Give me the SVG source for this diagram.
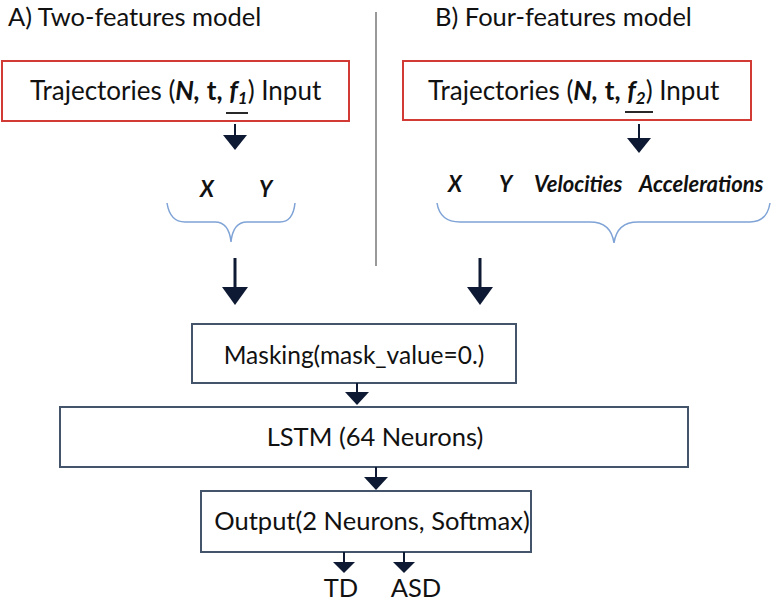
<svg xmlns="http://www.w3.org/2000/svg" width="772" height="602" viewBox="0 0 772 602">
<defs>
<style>
text{font-family:Lato,"Open Sans","Liberation Sans",sans-serif;fill:#111;}
.t{font-size:26px;}
.ti{font-size:25.5px;}
.lbl{font-size:25.5px;text-anchor:middle;}
.feat{font-size:22px;font-weight:bold;font-style:italic;}
.bi{font-weight:bold;font-style:italic;}
.b{font-weight:bold;}
.red{fill:#fff;stroke:#d23a35;stroke-width:2;}
.blu{fill:#fff;stroke:#44546a;stroke-width:2;}
.brace{fill:none;stroke:#7fa3d6;stroke-width:1.5;}
.ar{stroke:#0e1a33;stroke-width:2;fill:none;}
.arb{stroke:#0e1a33;stroke-width:3;fill:none;}
.hd{fill:#0e1a33;}
.ul{stroke:#111;stroke-width:1.8;}
</style>
</defs>
<rect width="772" height="602" fill="#fff"/>
<g id="titles">
<text class="ti" x="8" y="26">A) Two-features model</text>
<text class="ti" x="435" y="26">B) Four-features model</text>
</g>
<line x1="376" y1="12" x2="376" y2="266" stroke="#777" stroke-width="1.5"/>
<g id="inputA">
<rect class="red" x="2" y="61" width="347" height="60"/>
<text class="t" x="30" y="100">Trajectories (<tspan class="bi">N,</tspan> <tspan class="b">t,</tspan> <tspan class="bi">f<tspan font-size="17" dy="4">1</tspan></tspan><tspan dy="-4">) Input</tspan></text>
<line class="ul" x1="226" y1="113" x2="248" y2="113"/>
</g>
<g id="inputB">
<rect class="red" x="403" y="61" width="348" height="59"/>
<text class="t" x="428" y="100">Trajectories  (<tspan class="bi">N,</tspan> <tspan class="b">t,</tspan> <tspan class="bi">f<tspan font-size="17" dy="4">2</tspan></tspan><tspan dy="-4">) Input</tspan></text>
<line class="ul" x1="625" y1="112" x2="653" y2="112"/>
</g>
<g id="featuresA">
<text class="feat" x="200" y="197">X</text>
<text class="feat" x="259" y="197">Y</text>
<path class="brace" d="M167,203 Q170,222 185,222 L215,222 Q229,222 231,242 Q233,222 247,222 L280,222 Q293,222 295,203"/>
</g>
<g id="featuresB">
<text class="feat" x="448" y="192">X</text>
<text class="feat" x="499" y="192">Y</text>
<text class="feat" x="534" y="192">Velocities</text>
<text class="feat" x="639" y="192">Accelerations</text>
<path class="brace" d="M437,203 Q440,222 460,222 L590,222 Q611,222 614,243 Q617,222 638,222 L750,222 Q767,222 770,203"/>
</g>
<g id="masking">
<rect class="blu" x="192" y="324" width="324" height="59"/>
<text class="lbl" x="354" y="364" style="font-size:24.5px">Masking(mask_value=0.)</text>
</g>
<g id="lstm">
<rect class="blu" x="60" y="407" width="628" height="60"/>
<text class="lbl" x="375" y="446">LSTM (64 Neurons)</text>
</g>
<g id="output">
<rect class="blu" x="201" y="491" width="330" height="61"/>
<text class="lbl" x="372" y="530">Output(2 Neurons, Softmax)</text>
</g>
<g id="TD"><text class="lbl" x="341" y="597">TD</text></g>
<g id="ASD"><text class="lbl" x="416" y="597">ASD</text></g>
<g id="connectors">
<line class="ar" x1="235" y1="124" x2="235" y2="136"/>
<polygon class="hd" points="223,135 247,135 235,150"/>
<line class="ar" x1="639" y1="124" x2="639" y2="139"/>
<polygon class="hd" points="627,138 651,138 639,153"/>
<line class="arb" x1="235" y1="258" x2="235" y2="289"/>
<polygon class="hd" points="222,287 248,287 235,305"/>
<line class="arb" x1="480" y1="258" x2="480" y2="289"/>
<polygon class="hd" points="467,287 493,287 480,305"/>
<line class="ar" x1="357" y1="383" x2="357" y2="393"/>
<polygon class="hd" points="345,392 369,392 357,405"/>
<line class="ar" x1="376" y1="467" x2="376" y2="478"/>
<polygon class="hd" points="364,477 388,477 376,490"/>
<line class="ar" x1="344" y1="552" x2="344" y2="563"/>
<polygon class="hd" points="333,562 355,562 344,573"/>
<line class="ar" x1="404" y1="552" x2="404" y2="563"/>
<polygon class="hd" points="393,562 415,562 404,573"/>
</g>
</svg>
